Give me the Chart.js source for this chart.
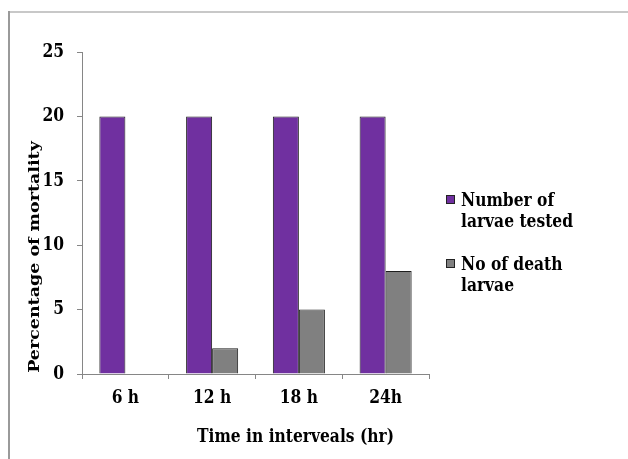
<!DOCTYPE html>
<html>
<head>
<meta charset="utf-8">
<script src="https://cdn.jsdelivr.net/npm/chart.js@4.4.1/dist/chart.umd.min.js"></script>
<style>
html,body{margin:0;padding:0;background:#fff;}
canvas{display:block;}
</style>
</head>
<body>
<canvas id="c" width="628" height="459"></canvas>
<script>
const categories = ['6 h', '12 h', '18 h', '24h'];
const larvaeTested = [20, 20, 20, 20];
const deathLarvae = [0, 2, 5, 8];
const seriesNames = [['Number of', 'larvae tested'], ['No of death', 'larvae']];
const yTitle = 'Percentage of mortality';
const xTitle = 'Time in interveals (hr)';
const yTicks = [0, 5, 10, 15, 20, 25];

const FONT = '"DejaVu Serif", "Liberation Serif", serif';
const PURPLE = '#7030A0';
const GRAY = '#808080';
const AXIS = '#868686';
const STRETCH = 1.18;

function stretchedText(ctx, text, x, y, size, align, baseline, rotate) {
  ctx.save();
  ctx.font = 'bold ' + size + 'px ' + FONT;
  ctx.fillStyle = '#000';
  ctx.textAlign = align;
  ctx.textBaseline = baseline;
  ctx.translate(x, y);
  if (rotate) {
    ctx.rotate(-Math.PI / 2);
    ctx.scale(STRETCH, 1);
  } else {
    ctx.scale(1, STRETCH);
  }
  ctx.fillText(text, 0, 0);
  ctx.restore();
}

const decor = {
  id: 'decor',
  beforeDraw(chart) {
    const ctx = chart.ctx;
    ctx.save();
    ctx.fillStyle = '#fff';
    ctx.fillRect(0, 0, chart.width, chart.height);
    ctx.fillStyle = '#c8c8c8';
    ctx.fillRect(8, 11, chart.width - 8, 2);
    ctx.fillStyle = '#9a9a9a';
    ctx.fillRect(8, 11, 2, chart.height - 11);
    ctx.restore();
  },
  afterDraw(chart) {
    const ctx = chart.ctx;
    const xs = chart.scales.x, ys = chart.scales.y;
    // tick labels
    ys.ticks.forEach((t, i) => {
      stretchedText(ctx, String(t.value), 64, ys.getPixelForTick(i), 15.5, 'right', 'middle', false);
    });
    categories.forEach((c, i) => {
      stretchedText(ctx, c, xs.getPixelForTick(i), 398.5, 15.5, 'center', 'middle', false);
    });
    // axis titles
    stretchedText(ctx, yTitle, 35, 257, 14.8, 'center', 'middle', true);
    stretchedText(ctx, xTitle, 295.5, 441.5, 15.5, 'center', 'alphabetic', false);
    // legend
    const colors = [PURPLE, GRAY];
    const tops = [195, 259];
    chart.data.datasets.forEach((ds, i) => {
      const y0 = tops[i];
      ctx.save();
      ctx.fillStyle = colors[i];
      ctx.fillRect(446, y0, 9, 9);
      ctx.strokeStyle = '#222';
      ctx.lineWidth = 1;
      ctx.strokeRect(446.5, y0 + 0.5, 8, 8);
      ctx.restore();
      seriesNames[i].forEach((t, k) => {
        stretchedText(ctx, t, 461, y0 + 10.5 + k * 21.5, 15.5, 'left', 'alphabetic', false);
      });
    });
  }
};

new Chart(document.getElementById('c'), {
  type: 'bar',
  data: {
    labels: categories,
    datasets: [
      { label: seriesNames[0].join(' '), data: larvaeTested, backgroundColor: PURPLE, borderColor: '#1e1e1e', borderWidth: 1, borderSkipped: 'start' },
      { label: seriesNames[1].join(' '), data: deathLarvae, backgroundColor: GRAY, borderColor: '#1e1e1e',
        borderWidth: c => (c.raw === 0 ? 0 : 1), borderSkipped: 'start' }
    ]
  },
  options: {
    responsive: false,
    animation: false,
    devicePixelRatio: 1,
    layout: { padding: { left: 8, top: 52, right: 199, bottom: 25 } },
    plugins: { legend: { display: false }, tooltip: { enabled: false } },
    datasets: { bar: { categoryPercentage: 0.6, barPercentage: 1.0 } },
    scales: {
      x: {
        afterFit: s => { s.height = 60; },
        grid: { display: true, offset: true, drawOnChartArea: false, tickLength: 5, color: AXIS },
        border: { color: AXIS, width: 1 },
        ticks: { color: 'rgba(0,0,0,0)', font: { family: FONT, weight: 'bold', size: 15 }, padding: 10 }
      },
      y: {
        min: 0, max: 25,
        afterFit: s => { s.width = 74; },
        afterBuildTicks: s => { s.ticks = yTicks.map(v => ({ value: v })); },
        grid: { display: true, drawOnChartArea: false, tickLength: 5, color: AXIS },
        border: { color: AXIS, width: 1 },
        ticks: { color: 'rgba(0,0,0,0)', font: { family: FONT, weight: 'bold', size: 15 }, padding: 12 }
      }
    }
  },
  plugins: [decor]
});
</script>
</body>
</html>
